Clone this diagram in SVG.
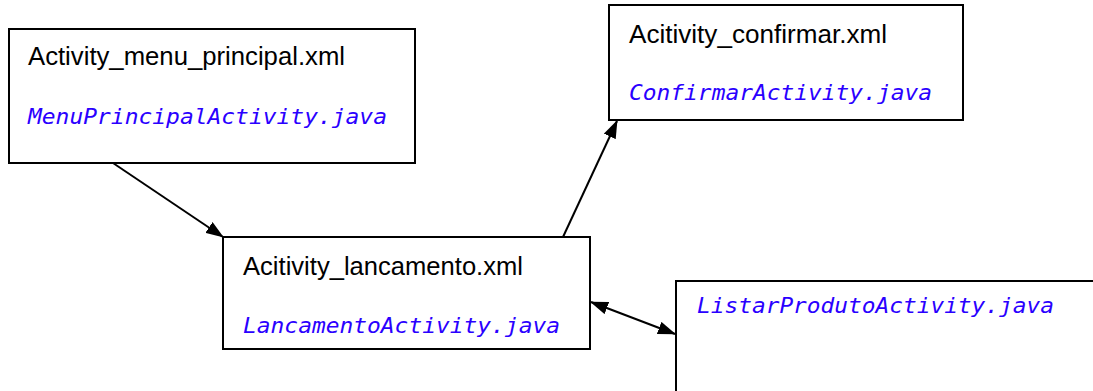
<svg xmlns="http://www.w3.org/2000/svg" width="1093" height="391" viewBox="0 0 1093 391">
<style>
.box{fill:#fff;stroke:#000;stroke-width:2}
.xml{font-family:"Liberation Sans",Arial,sans-serif;font-size:26px;fill:#000}
.java{font-family:"DejaVu Sans Mono",monospace;font-style:italic;font-size:21px;fill:#2a00ff}
.conn{stroke:#000;stroke-width:2;fill:none}
</style>
<defs>
<marker id="ah" markerWidth="18" markerHeight="13" refX="17" refY="6.5" orient="auto" markerUnits="userSpaceOnUse">
<path d="M0,0 L18,6.5 L0,13 Z" fill="#000"/>
</marker>
<marker id="ahs" markerWidth="18" markerHeight="13" refX="1" refY="6.5" orient="auto" markerUnits="userSpaceOnUse">
<path d="M18,0 L0,6.5 L18,13 Z" fill="#000"/>
</marker>
</defs>
<rect width="1093" height="391" fill="#fff"/>
<g id="menu_principal">
<rect class="box" x="9" y="29" width="406" height="134"/>
<text class="xml" x="28" y="65" textLength="317" lengthAdjust="spacingAndGlyphs">Activity_menu_principal.xml</text>
<text class="java" x="28" y="124" textLength="359" lengthAdjust="spacingAndGlyphs">MenuPrincipalActivity.java</text>
</g>
<g id="confirmar">
<rect class="box" x="609" y="5" width="354" height="115"/>
<text class="xml" x="629" y="43" textLength="258" lengthAdjust="spacingAndGlyphs">Acitivity_confirmar.xml</text>
<text class="java" x="629" y="100" textLength="303" lengthAdjust="spacingAndGlyphs">ConfirmarActivity.java</text>
</g>
<g id="lancamento">
<rect class="box" x="223" y="237" width="367" height="112"/>
<text class="xml" x="243" y="275" textLength="280" lengthAdjust="spacingAndGlyphs">Acitivity_lancamento.xml</text>
<text class="java" x="243" y="333" textLength="317" lengthAdjust="spacingAndGlyphs">LancamentoActivity.java</text>
</g>
<g id="listar_produto">
<rect class="box" x="676" y="281" width="430" height="130"/>
<text class="java" x="697" y="313" textLength="357" lengthAdjust="spacingAndGlyphs">ListarProdutoActivity.java</text>
</g>
<g id="connectors">
<line class="conn" x1="113" y1="163" x2="223" y2="237" marker-end="url(#ah)"/>
<line class="conn" x1="563" y1="237" x2="617" y2="121" marker-end="url(#ah)"/>
<line class="conn" x1="591" y1="302" x2="675" y2="334" marker-start="url(#ahs)" marker-end="url(#ah)"/>
</g>
</svg>
